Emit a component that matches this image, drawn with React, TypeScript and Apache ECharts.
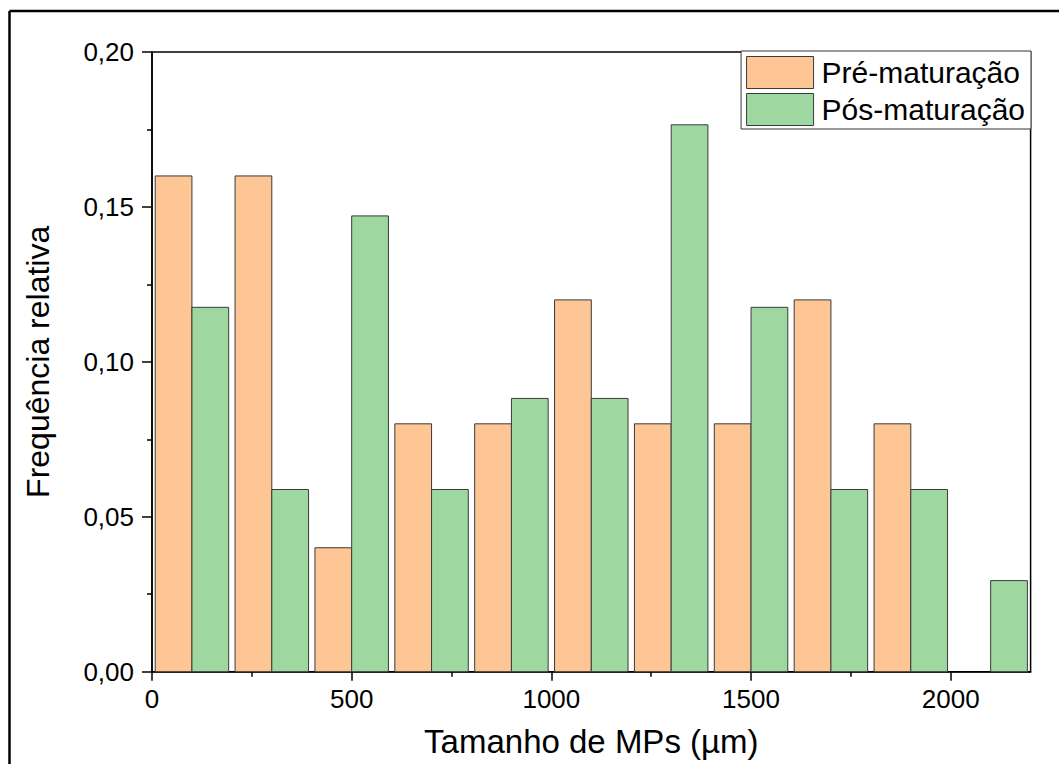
import React, { useEffect, useRef } from "react";
import * as echarts from "echarts";

const binStarts = [0, 200, 400, 600, 800, 1000, 1200, 1400, 1600, 1800, 2000];
const preValues = [0.16, 0.16, 0.04, 0.08, 0.08, 0.12, 0.08, 0.08, 0.12, 0.08, 0];
const postValues = [0.1176, 0.0588, 0.1471, 0.0588, 0.0882, 0.0882, 0.1765, 0.1176, 0.0588, 0.0588, 0.0294];
const seriesNames = ["Pré-maturação", "Pós-maturação"];
const xMajorTicks = [0, 500, 1000, 1500, 2000];
const xMinorTicks = [250, 750, 1250, 1750];

const FONT = "Liberation Sans, Arial, sans-serif";
const ORANGE = "#FDC694";
const GREEN = "#9ED8A0";
const EDGE = "#3a3a3a";

const GRID = { left: 152, right: 28.4, top: 52, bottom: 92.3 };

function makeRender(color: string) {
  return (params: any, api: any) => {
    const x0 = api.value(0);
    const x1 = api.value(1);
    const v = api.value(2);
    if (!v) return null;
    const p0 = api.coord([x0, v]);
    const p1 = api.coord([x1, 0]);
    return {
      type: "rect",
      shape: { x: p0[0], y: p0[1], width: p1[0] - p0[0], height: p1[1] - p0[1] },
      style: { fill: color, stroke: EDGE, lineWidth: 1 },
    };
  };
}

export default function App() {
  const ref = useRef<HTMLDivElement>(null);
  useEffect(() => {
    const chart = echarts.init(ref.current!, null, { renderer: "svg" });
    const preData = binStarts.map((s, i) => [s + 8, s + 100, preValues[i]]);
    const postData = binStarts.map((s, i) => [s + 100, s + 192, postValues[i]]);
    chart.setOption({
      animation: false,
      backgroundColor: "#fff",
      textStyle: { fontFamily: FONT },
      grid: [
        {
          ...GRID,
          show: true,
          borderColor: "#000",
          borderWidth: 1.5,
          containLabel: false,
        },
        { ...GRID, show: false, containLabel: false },
      ],
      legend: {
        orient: "vertical",
        right: 28,
        top: 51,
        itemWidth: 67,
        itemHeight: 32,
        itemGap: 4,
        padding: [5, 6, 3, 5],
        borderColor: "#333",
        borderWidth: 1,
        backgroundColor: "#fff",
        textStyle: { fontSize: 30, color: "#000", fontFamily: FONT, padding: [0, 0, 0, 3] },
        data: [
          { name: seriesNames[0], icon: "rect", itemStyle: { color: ORANGE, borderColor: EDGE, borderWidth: 1 } },
          { name: seriesNames[1], icon: "rect", itemStyle: { color: GREEN, borderColor: EDGE, borderWidth: 1 } },
        ],
      },
      xAxis: [
        {
          type: "value",
          gridIndex: 0,
          min: 0,
          max: 2200,
          interval: 500,
          position: "bottom",
          name: "Tamanho de MPs (µm)",
          nameLocation: "middle",
          nameGap: 53,
          nameTextStyle: { fontSize: 33, color: "#000", fontFamily: FONT },
          axisLine: { show: true, onZero: false, lineStyle: { color: "#000", width: 1.5 } },
          axisTick: { show: true, length: 9, customValues: xMajorTicks, lineStyle: { color: "#000", width: 1.5 } },
          axisLabel: {
            fontSize: 26,
            color: "#000",
            margin: 14,
            customValues: xMajorTicks,
            fontFamily: FONT,
            formatter: (v: number) => String(v),
          },
          splitLine: { show: false },
        },
        {
          type: "value",
          gridIndex: 1,
          min: 0,
          max: 2200,
          interval: 500,
          position: "bottom",
          axisLine: { show: false, onZero: false },
          axisTick: {
            show: true,
            length: 5,
            customValues: xMinorTicks,
            lineStyle: { color: "#000", width: 1.5 },
          },
          axisLabel: { show: false },
          splitLine: { show: false },
        },
      ],
      yAxis: [
        {
          type: "value",
          gridIndex: 0,
          min: 0,
          max: 0.2,
          interval: 0.05,
          name: "Frequência relativa",
          nameLocation: "middle",
          nameGap: 98,
          nameTextStyle: { fontSize: 32, color: "#000", fontFamily: FONT },
          axisLine: { show: true, onZero: false, lineStyle: { color: "#000", width: 1.5 } },
          axisTick: { show: true, length: 10, lineStyle: { color: "#000", width: 1.5 } },
          minorTick: { show: true, splitNumber: 2, length: 5, lineStyle: { color: "#000", width: 1.5 } },
          axisLabel: {
            fontSize: 26,
            color: "#000",
            margin: 18,
            fontFamily: FONT,
            formatter: (v: number) => v.toFixed(2).replace(".", ","),
          },
          splitLine: { show: false },
        },
        {
          type: "value",
          gridIndex: 1,
          min: 0,
          max: 0.2,
          show: false,
        },
      ],
      series: [
        {
          name: seriesNames[0],
          type: "custom",
          xAxisIndex: 0,
          yAxisIndex: 0,
          renderItem: makeRender(ORANGE),
          itemStyle: { color: ORANGE },
          encode: { x: [0, 1], y: 2 },
          data: preData,
        },
        {
          name: seriesNames[1],
          type: "custom",
          xAxisIndex: 0,
          yAxisIndex: 0,
          renderItem: makeRender(GREEN),
          itemStyle: { color: GREEN },
          encode: { x: [0, 1], y: 2 },
          data: postData,
        },
      ],
      graphic: [
        { type: "line", shape: { x1: 9.5, y1: 11, x2: 1059, y2: 11 }, style: { stroke: "#000", lineWidth: 2.5 } },
        { type: "line", shape: { x1: 9.5, y1: 11, x2: 9.5, y2: 764 }, style: { stroke: "#000", lineWidth: 2.5 } },
      ],
    });
    return () => chart.dispose();
  }, []);
  return (
    <div
      ref={ref}
      style={{ position: "fixed", left: 0, top: 0, width: 1059, height: 764, background: "#fff" }}
    />
  );
}
